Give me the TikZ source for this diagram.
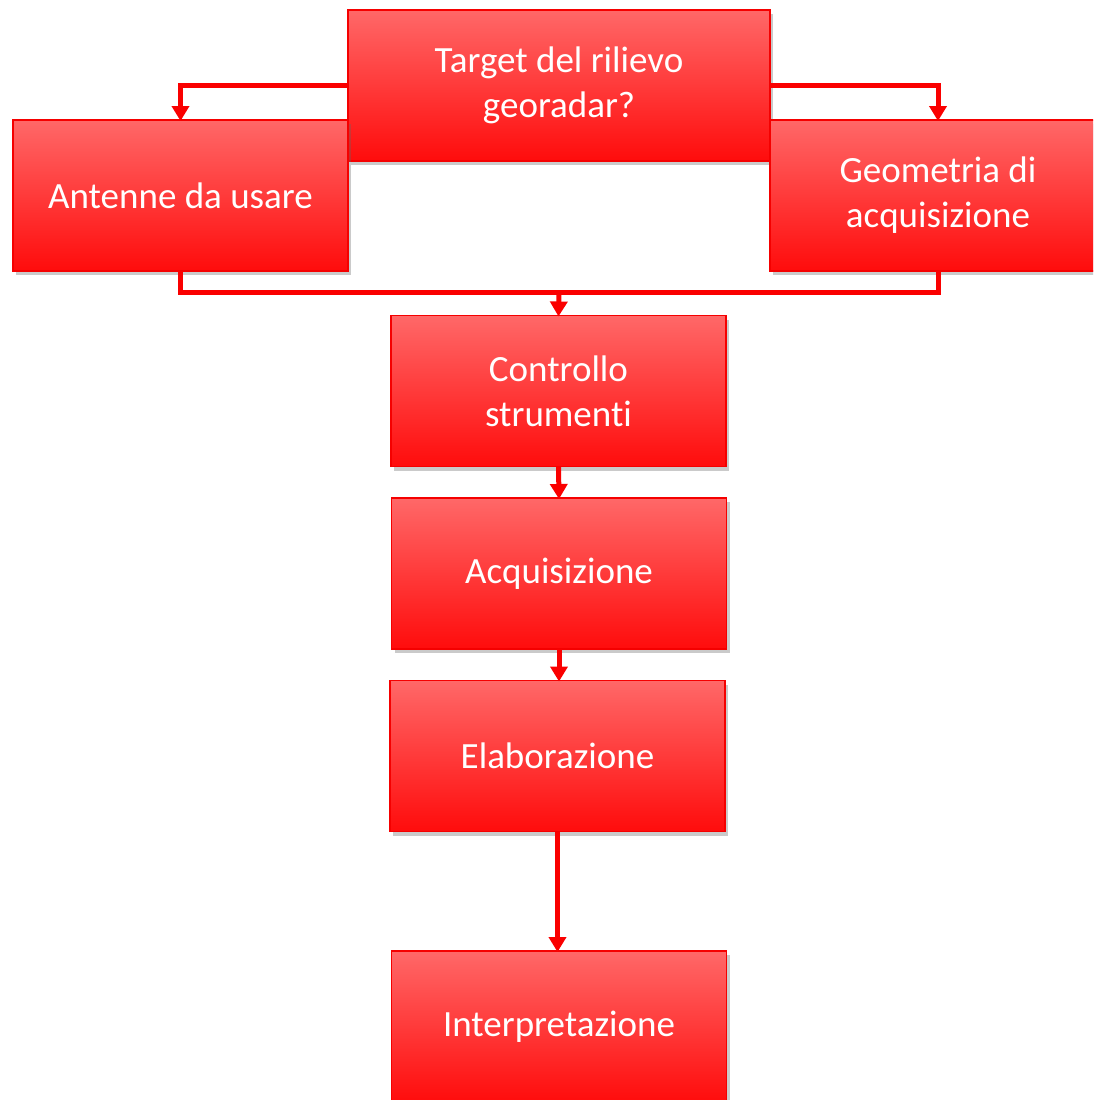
\documentclass[tikz,border=0pt]{standalone}
\usepackage{fontspec}
\setmainfont[Ligatures=NoCommon]{Carlito}
\usetikzlibrary{arrows.meta,shadows}
\definecolor{boxtop}{RGB}{255,104,104}
\definecolor{boxbot}{RGB}{255,12,12}
\definecolor{boxline}{RGB}{245,0,0}
\definecolor{linered}{RGB}{250,0,0}
\tikzset{
  box/.style={draw=boxline, line width=1.5pt, top color=boxtop, bottom color=boxbot,
    minimum width=335pt, minimum height=151pt, outer sep=0pt, inner sep=0pt,
    text=white, align=center, font=\fontsize{37}{45}\selectfont,
    drop shadow={shadow xshift=3pt, shadow yshift=-4pt, opacity=0.35, fill=black!60}},
  conn/.style={draw=linered, line width=5pt},
  arr/.style={conn, -{Triangle[length=15pt,width=17pt]}, shorten >=-1pt}
}
\begin{document}
\begin{tikzpicture}[x=1pt,y=1pt]
\useasboundingbox (0,0) rectangle (1093,-1100);
\begin{scope}
\clip (0,0) rectangle (1093,-1100);
\node[box, minimum width=422pt] (tgt) at (559,-85.5) {Target del rilievo\\georadar?};
\node[box] (ant) at (180.5,-195.5) {Antenne da usare};
\node[box, minimum width=336pt] (geo) at (938,-195.5) {Geometria di\\acquisizione};
\node[box] (ctl) at (558.5,-391) {Controllo\\strumenti};
\node[box] (acq) at (559,-573.5) {Acquisizione};
\node[box] (ela) at (557.5,-756) {Elaborazione};
\node[box] (int) at (559,-1026.5) {Interpretazione};
\coordinate (jn) at (559,-292);
\draw[arr] (tgt.west) -| (ant.north);
\draw[arr] (tgt.east) -| (geo.north);
\draw[conn] (ant.south) |- (jn) -| (geo.south);
\draw[arr] (jn) -- (ctl.north);
\draw[arr] (ctl.south) -- (acq.north);
\draw[arr] (acq.south) -- (acq.south |- ela.north);
\draw[arr] (ela.south) -- (ela.south |- int.north);
\end{scope}
\end{tikzpicture}
\end{document}
